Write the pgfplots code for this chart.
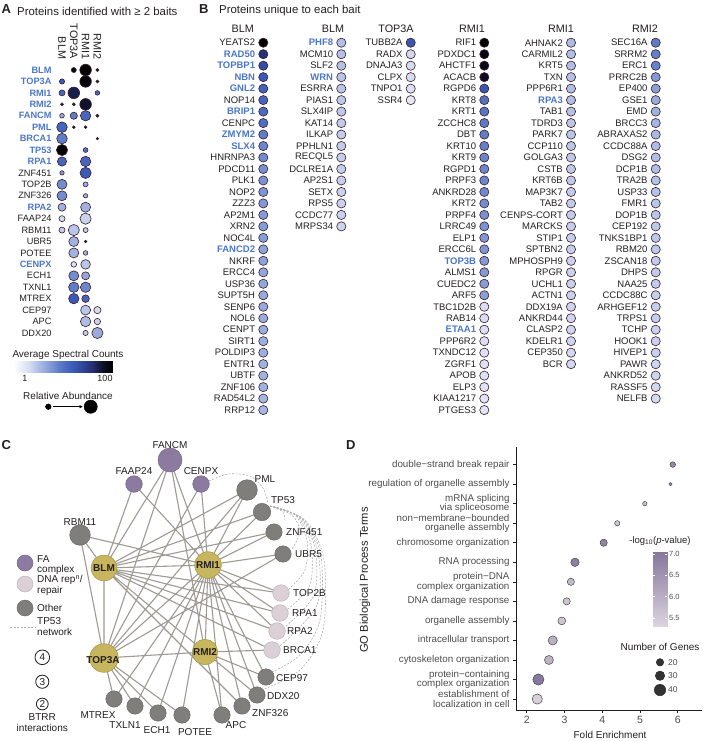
\documentclass[border=0pt]{standalone}
\usepackage{fontspec}
\setmainfont{Liberation Sans}
\usepackage{pgfplots}
\pgfplotsset{compat=1.18}
\usepackage{pgfplotstable}
\usetikzlibrary{arrows.meta}
\definecolor{txt}{RGB}{35,31,32}
\definecolor{hlb}{RGB}{76,118,200}
\definecolor{dotedge}{RGB}{60,28,40}
\definecolor{gray30}{RGB}{77,77,77}
\definecolor{axcol}{RGB}{30,30,30}
\definecolor{edgecol}{RGB}{158,154,148}
\definecolor{dashcol}{RGB}{175,175,175}
\definecolor{cpur}{RGB}{140,122,160}
\definecolor{cpurd}{RGB}{118,102,140}
\definecolor{clight}{RGB}{218,208,214}
\definecolor{clightd}{RGB}{190,180,186}
\definecolor{cgray}{RGB}{128,126,122}
\definecolor{cgrayd}{RGB}{108,106,102}
\definecolor{cgold}{RGB}{200,182,94}
\definecolor{cgoldd}{RGB}{165,148,70}
\definecolor{dedge}{RGB}{70,70,70}
\newcommand{\fs}[1]{\fontsize{#1}{#1}\selectfont}
\DeclareRobustCommand{\hb}[1]{{\color{hlb}\bfseries #1}}
\pgfplotsset{
  /pgf/number format/assume math mode=true,
  colormap={bluemap}{rgb255(0cm)=(250,251,254) rgb255(1.5cm)=(212,220,240) rgb255(2.5cm)=(172,188,228) rgb255(4.5cm)=(95,125,200) rgb255(6cm)=(58,90,185) rgb255(7.8cm)=(38,50,120) rgb255(9cm)=(15,18,45) rgb255(10cm)=(0,0,0)},
  colormap={purpmap}{rgb255(0cm)=(220,213,222) rgb255(1cm)=(134,118,158)},
  bdot/.style={scatter, only marks, mark=*, mark size=4.6pt, point meta=explicit,
    scatter/use mapped color={draw=dotedge, fill=mapped color}, line width=0.6pt},
  blab/.style={only marks, mark=none, point meta=explicit symbolic,
    nodes near coords={\pgfplotspointmeta},
    nodes near coords style={anchor=east, inner sep=0pt, xshift=-8pt, text=txt, font=\fs{9.5}},
    x filter/.expression={\thisrow{hl}==0 ? x : nan}},
  blabh/.style={only marks, mark=none, point meta=explicit symbolic,
    nodes near coords={\pgfplotspointmeta},
    nodes near coords style={anchor=east, inner sep=0pt, xshift=-8pt, text=hlb, font=\bfseries\fs{9.5}},
    x filter/.expression={\thisrow{hl}==1 ? x : nan}},
  pdot/.style n args={2}{scatter, only marks, mark=*,
    scatter/use mapped color={draw=#1, fill=#2},
    visualization depends on={\thisrow{r}\as\rr},
    scatter/@pre marker code/.append style={/tikz/mark size=\rr}, line width=0.5pt},
  overlay/.style={at={(0pt,0pt)}, anchor=north west, scale only axis,
    width=705pt, height=741pt, xmin=0, xmax=705, ymin=0, ymax=741, y dir=reverse,
    hide axis, clip=false},
}
\pgfplotstableread{
row c lab hl
0 1.00 YEATS2 0
1 0.78 RAD50 1
2 0.66 TOPBP1 1
3 0.60 NBN 1
4 0.57 GNL2 1
5 0.55 NOP14 0
6 0.53 BRIP1 1
7 0.51 CENPC 0
8 0.45 ZMYM2 1
9 0.42 SLX4 1
10 0.40 HNRNPA3 0
11 0.39 PDCD11 0
12 0.38 PLK1 0
13 0.37 NOP2 0
14 0.36 ZZZ3 0
15 0.35 AP2M1 0
16 0.35 XRN2 0
17 0.34 NOC4L 0
18 0.33 FANCD2 1
19 0.33 NKRF 0
20 0.32 ERCC4 0
21 0.32 USP36 0
22 0.31 SUPT5H 0
23 0.31 SENP6 0
24 0.30 NOL6 0
25 0.30 CENPT 0
26 0.29 SIRT1 0
27 0.29 POLDIP3 0
28 0.28 ENTR1 0
29 0.28 UBTF 0
30 0.28 ZNF106 0
31 0.27 RAD54L2 0
32 0.27 RRP12 0
}\tbA
\pgfplotstableread{
row c lab hl
0 0.24 PHF8 1
1 0.23 MCM10 0
2 0.23 SLF2 0
3 0.22 WRN 1
4 0.22 ESRRA 0
5 0.21 PIAS1 0
6 0.21 SLX4IP 0
7 0.20 KAT14 0
8 0.20 ILKAP 0
9 0.20 PPHLN1 0
10 0.19 RECQL5 0
11 0.19 DCLRE1A 0
12 0.19 AP2S1 0
13 0.18 SETX 0
14 0.18 RPS5 0
15 0.18 CCDC77 0
16 0.17 MRPS34 0
}\tbB
\pgfplotstableread{
row c lab hl
0 0.62 TUBB2A 0
1 0.16 RADX 0
2 0.15 DNAJA3 0
3 0.14 CLPX 0
4 0.12 TNPO1 0
5 0.09 SSR4 0
}\tbC
\pgfplotstableread{
row c lab hl
0 1.00 RIF1 0
1 0.97 PDXDC1 0
2 0.95 AHCTF1 0
3 0.93 ACACB 0
4 0.62 RGPD6 0
5 0.50 KRT8 0
6 0.48 KRT1 0
7 0.46 ZCCHC8 0
8 0.45 DBT 0
9 0.44 KRT10 0
10 0.43 KRT9 0
11 0.42 RGPD1 0
12 0.42 PRPF3 0
13 0.41 ANKRD28 0
14 0.40 KRT2 0
15 0.39 PRPF4 0
16 0.38 LRRC49 0
17 0.37 ELP1 0
18 0.37 ERCC6L 0
19 0.36 TOP3B 1
20 0.36 ALMS1 0
21 0.35 CUEDC2 0
22 0.34 ARF5 0
23 0.14 TBC1D2B 0
24 0.14 RAB14 0
25 0.13 ETAA1 1
26 0.13 PPP6R2 0
27 0.12 TXNDC12 0
28 0.12 ZGRF1 0
29 0.12 APOB 0
30 0.11 ELP3 0
31 0.11 KIAA1217 0
32 0.10 PTGES3 0
}\tbD
\pgfplotstableread{
row c lab hl
0 0.25 AHNAK2 0
1 0.24 CARMIL2 0
2 0.24 KRT5 0
3 0.23 TXN 0
4 0.24 PPP6R1 0
5 0.24 RPA3 1
6 0.23 TAB1 0
7 0.22 TDRD3 0
8 0.22 PARK7 0
9 0.22 CCP110 0
10 0.21 GOLGA3 0
11 0.21 CSTB 0
12 0.21 KRT6B 0
13 0.20 MAP3K7 0
14 0.20 TAB2 0
15 0.20 CENPS-CORT 0
16 0.19 MARCKS 0
17 0.19 STIP1 0
18 0.19 SPTBN2 0
19 0.18 MPHOSPH9 0
20 0.18 RPGR 0
21 0.18 UCHL1 0
22 0.18 ACTN1 0
23 0.17 DDX19A 0
24 0.17 ANKRD44 0
25 0.17 CLASP2 0
26 0.17 KDELR1 0
27 0.16 CEP350 0
28 0.16 BCR 0
}\tbE
\pgfplotstableread{
row c lab hl
0 0.46 SEC16A 0
1 0.44 SRRM2 0
2 0.43 ERC1 0
3 0.36 PRRC2B 0
4 0.34 EP400 0
5 0.30 GSE1 0
6 0.28 EMD 0
7 0.27 BRCC3 0
8 0.26 ABRAXAS2 0
9 0.25 CCDC88A 0
10 0.24 DSG2 0
11 0.24 DCP1B 0
12 0.23 TRA2B 0
13 0.23 USP33 0
14 0.22 FMR1 0
15 0.22 DOP1B 0
16 0.21 CEP192 0
17 0.21 TNKS1BP1 0
18 0.21 RBM20 0
19 0.20 ZSCAN18 0
20 0.20 DHPS 0
21 0.20 NAA25 0
22 0.19 CCDC88C 0
23 0.19 ARHGEF12 0
24 0.19 TRPS1 0
25 0.18 TCHP 0
26 0.18 HOOK1 0
27 0.18 HIVEP1 0
28 0.17 PAWR 0
29 0.17 ANKRD52 0
30 0.16 RASSF5 0
31 0.15 NELFB 0
}\tbF
\begin{document}
\begin{tikzpicture}
\useasboundingbox (0,0) rectangle (705pt,-741pt);
% ---------------- Panel A ----------------
\begin{axis}[at={(56.1pt,-64.3pt)}, anchor=north west, scale only axis,
  width=47.2pt, height=274.4pt, xmin=-0.5, xmax=3.5, ymin=-0.5, ymax=23.5, y dir=reverse,
  axis line style={draw=none}, major tick length=0pt,
  xtick={0,1,2,3}, xticklabels={BLM,TOP3A,RMI1,RMI2}, xticklabel pos=right,
  xticklabel style={rotate=-90, anchor=east, inner xsep=5pt, inner ysep=0pt, font=\fs{10.8}, text=txt},
  ytick={0,...,23},
  yticklabels={\hb{BLM},\hb{TOP3A},\hb{RMI1},\hb{RMI2},\hb{FANCM},\hb{PML},\hb{BRCA1},\hb{TP53},\hb{RPA1},ZNF451,TOP2B,ZNF326,\hb{RPA2},FAAP24,RBM11,UBR5,POTEE,\hb{CENPX},ECH1,TXNL1,MTREX,CEP97,APC,DDX20},
  yticklabel style={inner sep=0pt, xshift=-4.4pt, font=\fs{9.2}, text=txt},
  colormap name=bluemap, point meta min=0, point meta max=1,
  clip=false]
\addplot[scatter, only marks, mark=*, point meta=explicit,
  scatter/use mapped color={draw=dotedge, fill=mapped color},
  visualization depends on={\thisrow{r}\as\rr},
  scatter/@pre marker code/.append style={/tikz/mark size=\rr}, line width=0.6pt]
  table[x=x, y=y, meta=c] {
x y r c
1 0 2.5 0.95
2 0 5.8 1.0
3 0 1.5 0.9
0 1 2.6 0.6
2 1 5.8 0.97
3 1 1.5 0.9
0 2 3.0 0.55
1 2 5.8 0.85
3 2 2.3 0.55
0 3 1.5 0.85
1 3 1.5 0.85
2 3 5.8 0.9
0 4 2.3 0.3
1 4 3.6 0.45
2 4 5.2 0.55
3 4 1.5 0.9
0 5 5.3 0.55
1 5 1.4 0.9
2 5 1.4 0.9
0 6 5.3 0.45
3 6 1.2 0.9
0 7 5.6 1.0
2 7 2.4 0.5
0 8 4.6 0.55
2 8 5.2 0.55
0 9 2.2 0.35
2 9 5.6 0.6
0 10 5.0 0.4
2 10 2.5 0.3
0 11 5.0 0.4
2 11 2.2 0.28
0 12 4.0 0.28
2 12 5.0 0.28
0 13 3.0 0.15
2 13 5.6 0.18
0 14 3.0 0.2
1 14 5.6 0.22
2 14 2.5 0.2
1 15 5.0 0.28
2 15 1.3 0.9
1 16 5.0 0.28
2 16 2.3 0.28
1 17 2.8 0.12
2 17 4.8 0.22
1 18 5.0 0.4
2 18 4.0 0.32
1 19 5.2 0.45
2 19 5.2 0.42
1 20 5.2 0.6
2 20 3.8 0.55
2 21 5.0 0.22
3 21 3.6 0.15
2 22 5.2 0.25
3 22 3.2 0.18
2 23 2.6 0.2
3 23 5.6 0.3
};
\end{axis}
% colour bar of panel A
\begin{axis}[at={(15pt,-361pt)}, anchor=north west, scale only axis, width=97pt, height=11pt,
  xmin=0, xmax=1, ymin=0, ymax=1, hide axis, colormap name=bluemap, point meta min=0, point meta max=1]
\addplot[surf, shader=interp, mesh/cols=11, point meta=explicit] table[x=x, y=y, meta=c] {
x y c
0 0 0
0.1 0 0.1
0.2 0 0.2
0.3 0 0.3
0.4 0 0.4
0.5 0 0.5
0.6 0 0.6
0.7 0 0.7
0.8 0 0.8
0.9 0 0.9
1 0 1
0 1 0
0.1 1 0.1
0.2 1 0.2
0.3 1 0.3
0.4 1 0.4
0.5 1 0.5
0.6 1 0.6
0.7 1 0.7
0.8 1 0.8
0.9 1 0.9
1 1 1
};
\end{axis}
% ---------------- Panel B ----------------
\begin{axis}[at={(130pt,-36.96pt)}, anchor=north west, scale only axis,
  width=575pt, height=378.84pt, xmin=130, xmax=705, ymin=-0.5, ymax=32.5, y dir=reverse,
  hide axis, clip=false, colormap name=bluemap, point meta min=0, point meta max=1]
\addplot[bdot] table[x expr=263.3, y=row, meta=c]{\tbA};
\addplot[bdot] table[x expr=341.3, y=row, meta=c]{\tbB};
\addplot[bdot] table[x expr=410.7, y=row, meta=c]{\tbC};
\addplot[bdot] table[x expr=484.3, y=row, meta=c]{\tbD};
\addplot[bdot] table[x expr=571.0, y=row, meta=c]{\tbE};
\addplot[bdot] table[x expr=655.7, y=row, meta=c]{\tbF};
\addplot[blab] table[x expr=263.3, y=row, meta=lab]{\tbA};
\addplot[blab] table[x expr=341.3, y=row, meta=lab]{\tbB};
\addplot[blab] table[x expr=410.7, y=row, meta=lab]{\tbC};
\addplot[blab] table[x expr=484.3, y=row, meta=lab]{\tbD};
\addplot[blab] table[x expr=571.0, y=row, meta=lab]{\tbE};
\addplot[blab] table[x expr=655.7, y=row, meta=lab]{\tbF};
\addplot[blabh] table[x expr=263.3, y=row, meta=lab]{\tbA};
\addplot[blabh] table[x expr=341.3, y=row, meta=lab]{\tbB};
\addplot[blabh] table[x expr=484.3, y=row, meta=lab]{\tbD};
\addplot[blabh] table[x expr=571.0, y=row, meta=lab]{\tbE};
\end{axis}
% ---------------- Panel D ----------------
\begin{axis}[at={(516pt,-447pt)}, anchor=north west, scale only axis,
  width=186.2pt, height=263pt, xmin=1.717, xmax=6.65, ymin=0.44, ymax=13.9,
  axis x line*=bottom, axis y line*=left, axis line style={draw=axcol, line width=0.8pt},
  xtick={2,3,4,5,6}, ytick={1,...,13},
  yticklabels={{establishment of\\localization in cell},{protein−containing\\complex organization},{cytoskeleton organization},{intracellular transport},{organelle assembly},{DNA damage response},{protein−DNA\\complex organization},{RNA processing},{chromosome organization},{non−membrane−bounded\\organelle assembly},{mRNA splicing\\via spliceosome},{regulation of organelle assembly},{double−strand break repair}},
  tick align=outside, major tick length=3pt, tick style={draw=axcol, line width=0.6pt},
  xticklabel style={font=\fs{10.5}, text=gray30},
  yticklabel style={font=\fontsize{9.8}{9.4}\selectfont, align=right, text=gray30},
  xlabel={Fold Enrichment}, ylabel={GO Biological Process Terms},
  xlabel style={at={(axis description cs:0.505,-0.093)}, anchor=center, font=\fs{10}, text=txt},
  ylabel style={at={(axis description cs:-0.811,0.494)}, anchor=center, font=\fs{11.2}, text=txt},
  colormap name=purpmap, point meta min=5.3, point meta max=7.05,
  clip=false]
\addplot[scatter, only marks, mark=*, point meta=explicit,
  scatter/use mapped color={draw=dedge, fill=mapped color},
  visualization depends on={\thisrow{r}\as\rr},
  scatter/@pre marker code/.append style={/tikz/mark size=\rr}, line width=0.5pt]
  table[x=fe, y=k, meta=p] {
k fe p r
13 5.87 6.7 2.8
12 5.81 6.3 1.6
11 5.13 5.7 2.2
10 4.40 5.6 2.6
9 4.04 6.8 3.6
8 3.28 6.9 4.2
7 3.17 5.8 3.6
6 3.06 5.6 3.6
5 2.93 5.6 3.9
4 2.69 6.0 4.6
3 2.59 5.9 4.5
2 2.31 7.0 5.6
1 2.28 5.4 5.1
};
\end{axis}
% colour bar of panel D
\begin{axis}[at={(652.7pt,-551.7pt)}, anchor=north west, scale only axis, width=14.7pt, height=75pt,
  xmin=0, xmax=1, ymin=5.3, ymax=7.05, axis line style={draw=none}, axis on top,
  xtick=\empty, ytick={5.5,6,6.5,7}, yticklabels={5.5,6.0,6.5,7.0}, yticklabel pos=right,
  tick align=inside, major tick length=2.5pt, ytick style={draw=white, line width=0.6pt},
  yticklabel style={font=\fs{7.5}, text=gray30, inner sep=1.5pt},
  colormap name=purpmap, point meta min=5.3, point meta max=7.05]
\addplot[surf, shader=interp, mesh/cols=2, point meta=explicit] table[x=x, y=y, meta=c] {
x y c
0 5.3 5.3
1 5.3 5.3
0 7.05 7.05
1 7.05 7.05
};
\end{axis}
% ---------------- Overlay: panel C network and legend marks ----------------
\begin{axis}[overlay]
\addplot[edgecol, line width=1.1pt, mark=none, unbounded coords=jump] coordinates {
(104,568) (208,565) (nan,nan)
(104,568) (104,658) (nan,nan)
(104,658) (205,652) (nan,nan)
(208,565) (205,652) (nan,nan)
(104,568) (205,652) (nan,nan)
(104,658) (208,565) (nan,nan)
(170,460) (104,568) (nan,nan)
(170,460) (104,658) (nan,nan)
(170,460) (208,565) (nan,nan)
(170,460) (205,652) (nan,nan)
(134,484) (104,568) (nan,nan)
(134,484) (208,565) (nan,nan)
(201,484) (104,658) (nan,nan)
(201,484) (208,565) (nan,nan)
(247,490) (104,568) (nan,nan)
(247,490) (104,658) (nan,nan)
(247,490) (208,565) (nan,nan)
(262,512) (104,568) (nan,nan)
(262,512) (208,565) (nan,nan)
(274,532) (104,568) (nan,nan)
(274,532) (208,565) (nan,nan)
(283,554) (104,658) (nan,nan)
(283,554) (208,565) (nan,nan)
(281,593) (104,568) (nan,nan)
(281,593) (208,565) (nan,nan)
(280,613) (104,568) (nan,nan)
(280,613) (208,565) (nan,nan)
(277,631) (104,568) (nan,nan)
(277,631) (208,565) (nan,nan)
(272,650) (104,568) (nan,nan)
(272,650) (205,652) (nan,nan)
(266,677) (208,565) (nan,nan)
(266,677) (205,652) (nan,nan)
(257,695) (208,565) (nan,nan)
(257,695) (205,652) (nan,nan)
(242,706) (104,568) (nan,nan)
(242,706) (208,565) (nan,nan)
(222,715) (208,565) (nan,nan)
(222,715) (205,652) (nan,nan)
(182,715) (104,658) (nan,nan)
(182,715) (208,565) (nan,nan)
(158,713) (104,658) (nan,nan)
(158,713) (208,565) (nan,nan)
(135,706) (104,658) (nan,nan)
(135,706) (208,565) (nan,nan)
(114,699) (104,658) (nan,nan)
(114,699) (208,565) (nan,nan)
(80,535) (104,568) (nan,nan)
(80,535) (104,658) (nan,nan)
(80,535) (208,565)
};
\addplot[dashcol, line width=0.6pt, dash pattern=on 2pt off 1.5pt, smooth] coordinates {(209,481) (228,474) (250,476) (263,488) (268,503)};
\addplot[dashcol, line width=0.6pt, dash pattern=on 2pt off 1.5pt, smooth] coordinates {(270,506) (283,512) (285,522)};
\addplot[dashcol, line width=0.6pt, dash pattern=on 2pt off 1.5pt, smooth] coordinates {(270,506) (292,515) (300,532) (292,549)};
\addplot[dashcol, line width=0.6pt, dash pattern=on 2pt off 1.5pt, smooth] coordinates {(270,506) (295,515) (307,540) (305,570) (289,589)};
\addplot[dashcol, line width=0.6pt, dash pattern=on 2pt off 1.5pt, smooth] coordinates {(270,506) (297,516) (311,545) (310,585) (288,609)};
\addplot[dashcol, line width=0.6pt, dash pattern=on 2pt off 1.5pt, smooth] coordinates {(270,506) (299,517) (315,548) (314,595) (285,627)};
\addplot[dashcol, line width=0.6pt, dash pattern=on 2pt off 1.5pt, smooth] coordinates {(270,506) (301,518) (318,552) (317,605) (280,646)};
\addplot[dashcol, line width=0.6pt, dash pattern=on 2pt off 1.5pt, smooth] coordinates {(270,506) (303,519) (321,556) (320,620) (300,655) (272,672)};
\addplot[dashcol, line width=0.6pt, dash pattern=on 2pt off 1.5pt, smooth] coordinates {(270,506) (305,520) (324,560) (323,630) (300,670) (262,690)};
\addplot[dashcol, line width=0.8pt, dash pattern=on 2pt off 1.5pt] coordinates {(10,627) (35,627)};
\addplot[pdot={cpurd}{cpur}] table {
x y r
170 460 12
134 484 8.3
201 484 8.3
25 563 8
};
\addplot[pdot={clightd}{clight}] table {
x y r
281 593 8.3
280 613 8.3
277 631 8.3
272 650 8.3
25 584 8
};
\addplot[pdot={cgrayd}{cgray}] table {
x y r
247 490 10.3
262 512 8.7
274 532 8.2
283 554 8.2
266 677 8.2
257 695 8.2
242 706 8.2
222 715 8.2
182 715 8.2
158 713 8.2
135 706 8.2
114 699 8.2
80 535 10.3
25 608 8
};
\addplot[pdot={cgoldd}{cgold}] table {
x y r
104 568 13
208 565 13.3
104 658 14.3
205 652 12.7
};
\addplot[pdot={axcol}{white}, line width=0.8pt] table {
x y r
42.3 657.3 7.3
42.3 681.7 6.6
42.3 704 5.9
};
\addplot[pdot={black}{black}] table {
x y r
48.3 406.7 2.8
90.7 406.7 6.6
};
\addplot[black, line width=0.6pt, -{Latex[length=3.5pt,width=3.5pt]}] coordinates {(53,406.7) (83,406.7)};
\addplot[pdot={black!85}{black!80}] table {
x y r
660 662.3 3.7
660 675.7 4.7
660 690 5.7
};
\end{axis}
% ---------------- Overlay: all free text, on top ----------------
\begin{axis}[overlay]
\node[anchor=west, inner sep=0pt, font=\bfseries\fs{13}, text=txt] at (1.5,9) {A};
\node[anchor=west, inner sep=0pt, font=\fs{11.4}, text=txt] at (17,11) {Proteins identified with ≥ 2 baits};
\node[anchor=west, inner sep=0pt, font=\bfseries\fs{13}, text=txt] at (199,9) {B};
\node[anchor=west, inner sep=0pt, font=\fs{11.4}, text=txt] at (219,11) {Proteins unique to each bait};
\node[anchor=west, inner sep=0pt, font=\bfseries\fs{13}, text=txt] at (1.5,445) {C};
\node[anchor=west, inner sep=0pt, font=\bfseries\fs{13}, text=txt] at (346,445) {D};
\begin{scope}[every node/.style={inner sep=0pt, font=\fs{10.8}, text=txt}]
\node at (242.8,28.3) {BLM};
\node at (333,28.3) {BLM};
\node at (396,28.3) {TOP3A};
\node at (472,28.3) {RMI1};
\node at (561,28.3) {RMI1};
\node at (645,28.3) {RMI2};
\end{scope}
\node[inner sep=0pt, font=\fs{10}, text=txt] at (68,355) {Average Spectral Counts};
\node[inner sep=0pt, font=\fs{9}, text=txt] at (25,378.3) {1};
\node[inner sep=0pt, font=\fs{9}, text=txt] at (105,378.3) {100};
\node[inner sep=0pt, font=\fs{10}, text=txt] at (68,395.7) {Relative Abundance};
\begin{scope}[every node/.style={inner sep=0pt, font=\fs{10}, text=txt}]
\node at (170,445) {FANCM};
\node at (134,471) {FAAP24};
\node at (201,471) {CENPX};
\node at (265,479) {PML};
\node at (283,500) {TP53};
\node[anchor=west] at (286,532) {ZNF451};
\node[anchor=west] at (295,554) {UBR5};
\node[anchor=west] at (293,593) {TOP2B};
\node[anchor=west] at (292,613) {RPA1};
\node[anchor=west] at (287,631) {RPA2};
\node[anchor=west] at (283,650) {BRCA1};
\node[anchor=west] at (276,678) {CEP97};
\node[anchor=west] at (267,696) {DDX20};
\node[anchor=west] at (252,713) {ZNF326};
\node at (236,725) {APC};
\node at (195,732) {POTEE};
\node at (157,730) {ECH1};
\node at (125,725) {TXLN1};
\node at (98,715) {MTREX};
\node at (80,522) {RBM11};
\node[font=\bfseries\fs{10}] at (104,568) {BLM};
\node[font=\bfseries\fs{10}] at (208,565) {RMI1};
\node[font=\bfseries\fs{10}] at (103,660) {TOP3A};
\node[font=\bfseries\fs{10}] at (205,652) {RMI2};
\node[anchor=west] at (37,559) {FA};
\node[anchor=west] at (37,570) {complex};
\node[anchor=west] at (37,580) {DNA rep\textsuperscript{n}/};
\node[anchor=west] at (37,590.5) {repair};
\node[anchor=west] at (37,608) {Other};
\node[anchor=west] at (37,621) {TP53};
\node[anchor=west] at (37,631.5) {network};
\node at (42.3,657.3) {4};
\node at (42.3,681.7) {3};
\node at (42.3,704) {2};
\node at (42.3,717) {BTRR};
\node at (42.3,727.5) {interactions};
\end{scope}
\node[inner sep=0pt, font=\fs{9.5}, text=txt] at (660,540.7) {-log\textsubscript{10}(\textit{p}-value)};
\node[inner sep=0pt, font=\fs{10}, text=txt] at (660,647) {Number of Genes};
\node[anchor=west, inner sep=0pt, font=\fs{8.5}, text=gray30] at (668,662.3) {20};
\node[anchor=west, inner sep=0pt, font=\fs{8.5}, text=gray30] at (668,675.7) {30};
\node[anchor=west, inner sep=0pt, font=\fs{8.5}, text=gray30] at (668,690) {40};
\end{axis}
\end{tikzpicture}
\end{document}
